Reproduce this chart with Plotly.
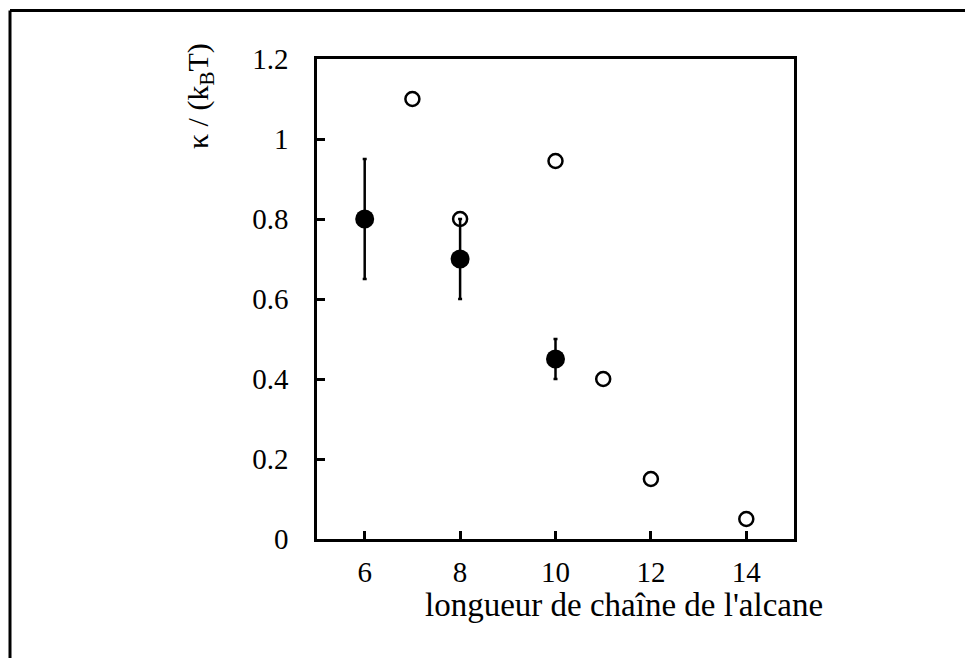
import plotly.graph_objects as go

# données
n_mesure = [6, 8, 10]
kappa_mesure = [0.80, 0.70, 0.45]
err_haut = [0.15, 0.10, 0.05]
err_bas = [0.15, 0.10, 0.05]

n_lit = [7, 8, 10, 11, 12, 14]
kappa_lit = [1.10, 0.80, 0.945, 0.40, 0.15, 0.05]

police = "Liberation Serif, Times New Roman, serif"

fig = go.Figure()

fig.add_trace(go.Scatter(
    x=n_lit, y=kappa_lit, mode="markers",
    marker=dict(symbol="circle-open", size=14, color="black", line=dict(width=2.5)),
    showlegend=False,
))

fig.add_trace(go.Scatter(
    x=n_mesure, y=kappa_mesure, mode="markers",
    marker=dict(symbol="circle", size=19, color="black"),
    error_y=dict(type="data", symmetric=False, array=err_haut, arrayminus=err_bas,
                 color="black", thickness=2.5, width=2),
    showlegend=False,
))

# la page ajoute une marge de 8 px autour de la figure
L, T, pw, ph = 309, 51, 477, 480
W, H = 973, 658
R, B = W - L - pw, H - T - ph

def px(x):
    return (x - L) / pw

def py(y):
    return (T + ph - y) / ph

# cadre extérieur (bords haut et gauche)
xg, yh = px(2), py(2.5)
fig.add_shape(type="line", xref="paper", yref="paper", x0=xg, x1=xg, y0=-1, y1=yh,
              line=dict(color="black", width=3))
fig.add_shape(type="line", xref="paper", yref="paper", x0=xg, x1=2, y0=yh, y1=yh,
              line=dict(color="black", width=3))

fig.add_annotation(text="longueur de chaîne de l'alcane", xref="paper", yref="paper",
                   x=px(616), y=py(597), showarrow=False, xanchor="center", yanchor="middle",
                   font=dict(size=33))
fig.add_annotation(text="κ / (k<sub>B</sub>T)", xref="paper", yref="paper",
                   x=px(192), y=py(88), showarrow=False, textangle=-90,
                   xanchor="center", yanchor="middle", font=dict(size=30))

fig.update_xaxes(
    range=[5, 15], tickvals=[6, 8, 10, 12, 14], ticks="inside", ticklen=8, tickwidth=2.5,
    tickcolor="black", showline=True, linecolor="black", linewidth=2.5, mirror=True,
    showgrid=False, zeroline=False, ticklabelstandoff=5,
)
fig.update_yaxes(
    range=[0, 1.2], tickvals=[0, 0.2, 0.4, 0.6, 0.8, 1, 1.2],
    ticktext=["0", "0.2", "0.4", "0.6", "0.8", "1", "1.2"],
    ticks="inside", ticklen=8, tickwidth=2.5,
    tickcolor="black", showline=True, linecolor="black", linewidth=2.5, mirror=True,
    showgrid=False, zeroline=False, ticklabelstandoff=20,
)

fig.update_layout(
    width=W, height=H,
    margin=dict(l=L, r=R, t=T, b=B),
    paper_bgcolor="white", plot_bgcolor="white",
    font=dict(family=police, size=29, color="black"),
)

fig.write_html("out.html")
